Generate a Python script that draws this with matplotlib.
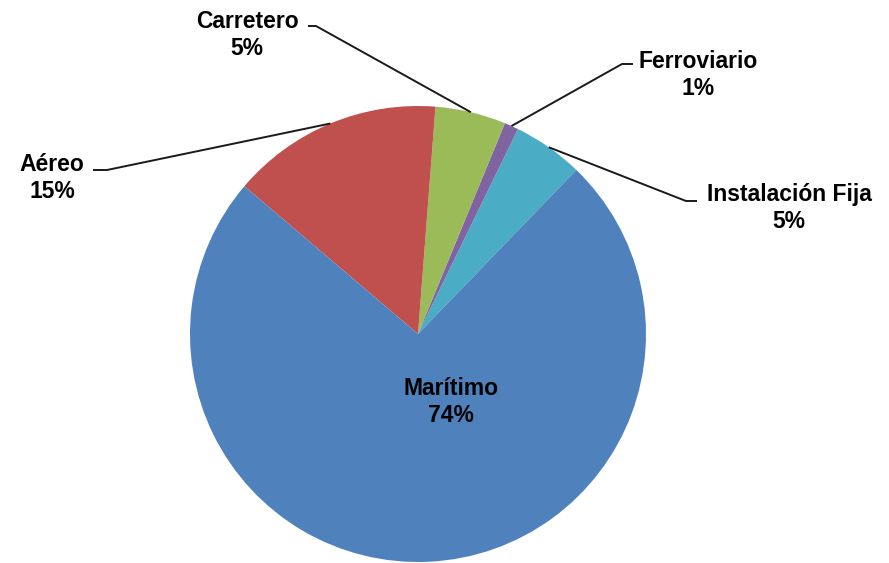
import matplotlib.pyplot as plt
import numpy as np

plt.rcParams["font.family"] = ["Liberation Sans", "DejaVu Sans"]

# data (counter-clockwise from the start angle)
modos = ["Instalación Fija", "Ferroviario", "Carretero", "Aéreo", "Marítimo"]
porcentajes = [5, 1, 5, 15, 74]
colores = ["#4BACC6", "#8064A2", "#9BBB59", "#C0504D", "#4F81BD"]

W, H = 889, 563
fig = plt.figure(figsize=(W / 100, H / 100), dpi=100)
ax = fig.add_axes([0, 0, 1, 1])

cx, cy, r = 418, H - 334, 228
wedges, _ = ax.pie(porcentajes, colors=colores, startangle=46, counterclock=True,
                   center=(cx, cy), radius=r, wedgeprops=dict(linewidth=0))
ax.set_xlim(0, W)
ax.set_ylim(0, H)
ax.set_aspect("equal")
ax.axis("off")

font = dict(fontsize=16.5, fontweight="bold", color="black", ha="center", va="center",
            multialignment="center", linespacing=1.25)

# outside labels: text centre (px from top-left), leader end, elbow
outside = {
    "Carretero": ((247, 35), (308, 26), (316, 26)),
    "Ferroviario": ((698, 75), (633, 64), (622, 64)),
    "Instalación Fija": ((789, 208), (697, 201), (686, 201)),
    "Aéreo": ((52, 178), (93, 170), (107, 170)),
}

for w, nombre, p in zip(wedges, modos, porcentajes):
    texto = f"{nombre}\n{p}%"
    if nombre in outside:
        (tx, ty), (ex, ey), (bx, by) = outside[nombre]
        ang = np.deg2rad((w.theta1 + w.theta2) / 2)
        ax0, ay0 = cx + r * np.cos(ang), cy + r * np.sin(ang)
        ax.plot([ex, bx, ax0], [H - ey, H - by, ay0], color="#1a1a1a", lw=1.4,
                solid_capstyle="butt")
        ax.text(tx, H - ty, texto, **font)
    else:
        ax.text(cx + 33, cy - 68, texto, **font)

fig.savefig("out.png", dpi=100)
